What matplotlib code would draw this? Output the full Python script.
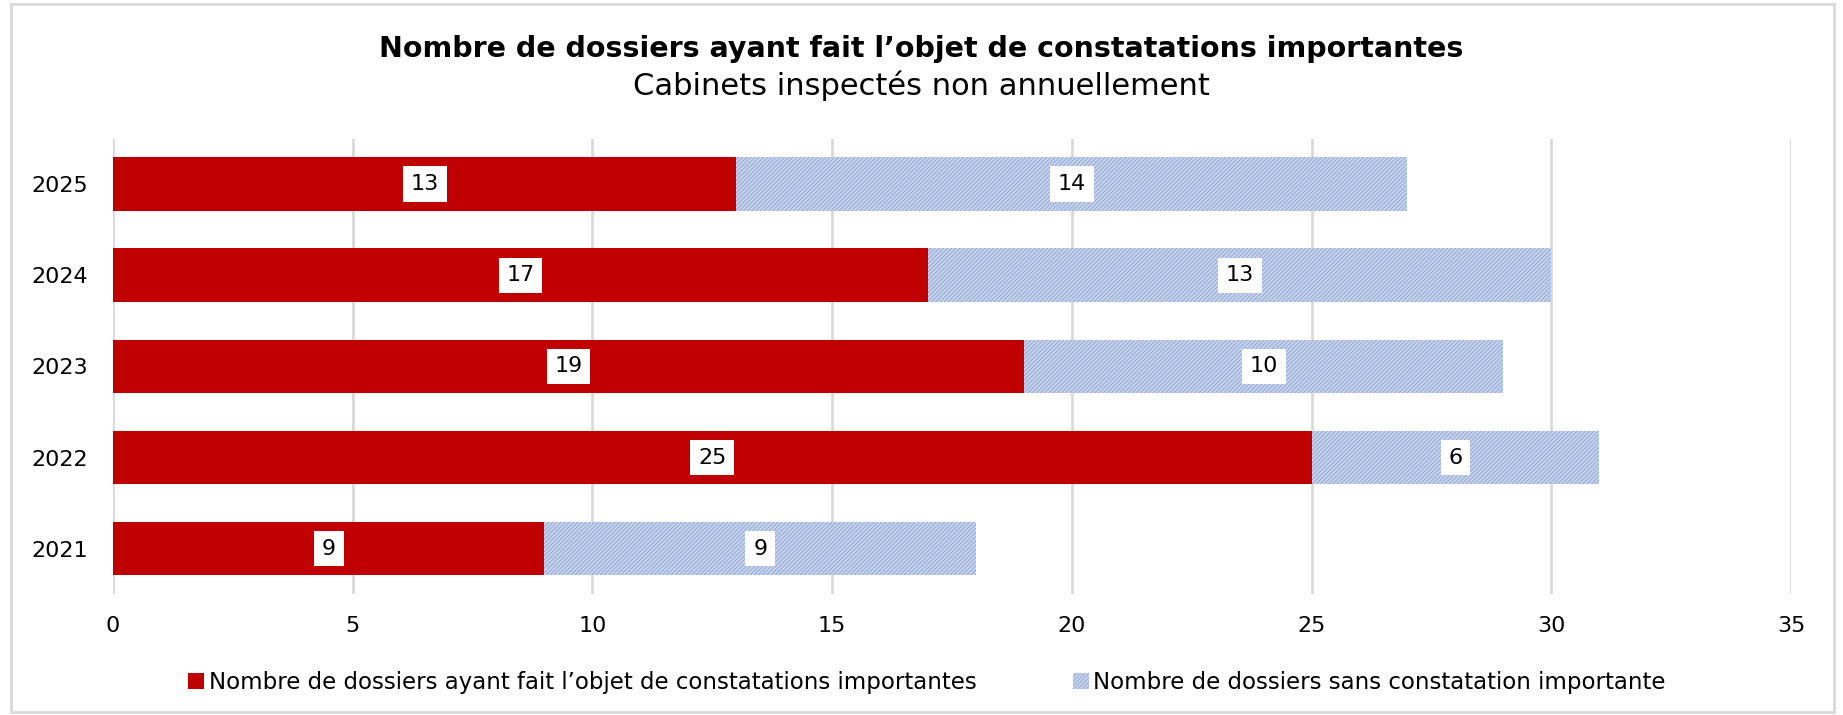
import numpy as np
import matplotlib.pyplot as plt
from matplotlib.patches import Rectangle

plt.rcParams['font.family'] = ['DejaVu Sans']
plt.rcParams['hatch.linewidth'] = 0.5

# donnees
annees = ['2021', '2022', '2023', '2024', '2025']
avec_constat = [9, 25, 19, 17, 13]
sans_constat = [9, 6, 10, 13, 14]

titre = "Nombre de dossiers ayant fait l\u2019objet de constatations importantes"
sous_titre = "Cabinets inspectés non annuellement"
leg1 = "Nombre de dossiers ayant fait l\u2019objet de constatations importantes"
leg2 = "Nombre de dossiers sans constatation importante"

rouge = '#c00000'
bleu_fond = '#c6d3ec'
bleu_trait = '#8299cc'

fig = plt.figure(figsize=(18.43, 7.15), dpi=100)
ax = fig.add_axes([0.0613, 0.169, 0.9105, 0.637])

y = np.arange(len(annees))
b1 = ax.barh(y, avec_constat, height=0.59, color=rouge, label=leg1, zorder=3)
b2 = ax.barh(y, sans_constat, left=avec_constat, height=0.59, color=bleu_fond,
             edgecolor=bleu_trait, hatch='////////', linewidth=0, label=leg2, zorder=3)

for bars in (b1, b2):
    for r in bars:
        v = int(round(r.get_width()))
        ax.text(r.get_x() + r.get_width() / 2, r.get_y() + r.get_height() / 2, str(v),
                ha='center', va='center', fontsize=16, color='black', zorder=5,
                bbox=dict(boxstyle='square,pad=0.35', fc='white', ec='none'))

ax.set_xlim(0, 35)
ax.set_ylim(-0.5, len(annees) - 0.5)
ax.set_xticks(np.arange(0, 36, 5))
ax.set_yticks(y)
ax.set_yticklabels(annees)
ax.tick_params(axis='x', length=0, pad=16, labelsize=16)
ax.tick_params(axis='y', length=0, pad=18, labelsize=16)
ax.grid(axis='x', color='#d9d9d9', linewidth=2, zorder=0)
for s in ax.spines.values():
    s.set_visible(False)

fig.text(0.5, 0.931, titre, ha='center', va='center', fontsize=20.5, fontweight='bold')
fig.text(0.5, 0.880, sous_titre, ha='center', va='center', fontsize=22)

leg = fig.legend(handles=[b1, b2], loc='center', bbox_to_anchor=(0.503, 0.046), ncol=2,
                 frameon=False, fontsize=16.5, handlelength=0.7, handleheight=0.7,
                 handletextpad=0.2, columnspacing=4.2)

fig.patches.append(Rectangle((0.006, 0.004), 0.989, 0.99, transform=fig.transFigure,
                             fill=False, ec='#d9d9d9', lw=2))

fig.savefig('out.png', dpi=100)
